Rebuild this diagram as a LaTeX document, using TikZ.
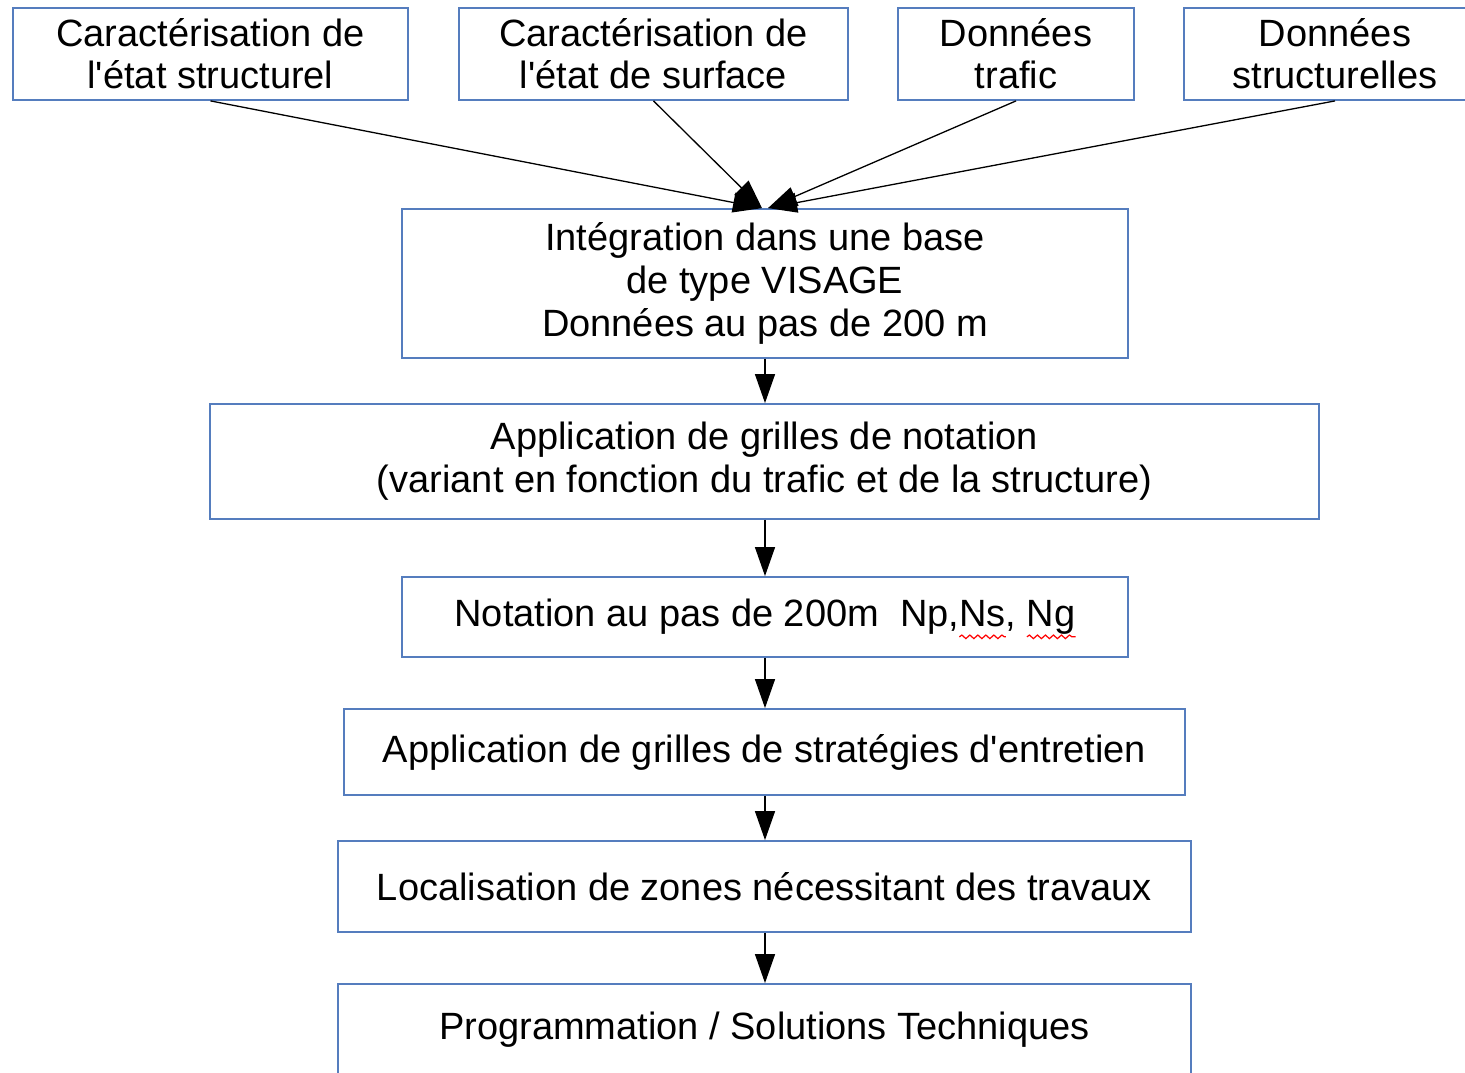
\documentclass[tikz,border=0pt]{standalone}
\usepackage{fontspec}
\setmainfont{Liberation Sans}[Ligatures=TeXOff]
\usetikzlibrary{arrows.meta,calc,decorations.pathmorphing}
\definecolor{boxblue}{RGB}{85,125,190}
\newsavebox\wavebox
\newcommand\redwave[1]{\sbox\wavebox{#1}\rlap{\usebox\wavebox}\tikz[baseline=0pt,x=1pt,y=1pt]{\useasboundingbox (0pt,0pt) rectangle (\wd\wavebox,0pt);
  \draw[red,line width=1.2pt,decorate,decoration={snake,amplitude=1.8pt,segment length=8pt}] (0pt,-10pt) -- (\wd\wavebox,-10pt);}}
\begin{document}
\begin{tikzpicture}[x=1pt,y=-1pt,
  box/.style={draw=boxblue,line width=1.8pt,inner sep=0pt,align=center,
    font=\fontsize{38}{42}\selectfont},
  wide/.style={font=\fontsize{38}{43}\selectfont},
  conn/.style={line width=1.3pt,-{Triangle[length=29pt,width=20pt]}}]
\useasboundingbox (0,0) rectangle (1465,1073);
\fill[white] (0,0) rectangle (1465,1073);
\clip (0,0) rectangle (1465,1073);
\node[box,minimum width=395pt,minimum height=92pt] (c1) at (210.5,54) {Caractérisation de\\l'état structurel};
\node[box,minimum width=389pt,minimum height=92pt] (c2) at (653.5,54) {Caractérisation de\\l'état de surface};
\node[box,minimum width=236pt,minimum height=92pt] (c3) at (1016,54) {Données\\trafic};
\node[box,minimum width=302pt,minimum height=92pt] (c4) at (1335,54) {Données\\structurelles};
\node[box,wide,minimum width=726pt,minimum height=149pt] (n5) at (765,283.5) {Intégration dans une base\\de type VISAGE\\Données au pas de 200 m};
\node[box,wide,minimum width=1109pt,minimum height=115pt] (n6) at (764.5,461.5) {Application de grilles de notation\\(variant en fonction du trafic et de la structure)};
\node[box,minimum width=726pt,minimum height=80pt] (n7) at (765,617) {Notation au pas de 200m\ \ Np,\redwave{Ns}, \redwave{Ng}};
\node[box,minimum width=841pt,minimum height=86pt] (n8) at (764.5,752) {Application de grilles de stratégies d'entretien};
\node[box,minimum width=853pt,minimum height=91pt] (n9) at (764.5,886.5) {Localisation de zones nécessitant des travaux};
\node[box,minimum width=853pt,minimum height=92pt] (n10) at (764.5,1030) {Programmation / Solutions Techniques};
\coordinate (tl) at ($(n5.north)+(-3,0)$);
\coordinate (tr) at ($(n5.north)+(3,0)$);
\draw[conn] (c1.south) -- (tl);
\draw[conn] (c2.south) -- (tl);
\draw[conn] (c3.south) -- (tr);
\draw[conn] (c4.south) -- (tr);
\draw[conn] (n5.south) -- (n5.south |- n6.north);
\draw[conn] (n6.south -| n5.south) -- (n5.south |- n7.north);
\draw[conn] (n7.south) -- (n7.south |- n8.north);
\draw[conn] (n8.south -| n7.south) -- (n7.south |- n9.north);
\draw[conn] (n9.south -| n7.south) -- (n7.south |- n10.north);
\end{tikzpicture}
\end{document}
